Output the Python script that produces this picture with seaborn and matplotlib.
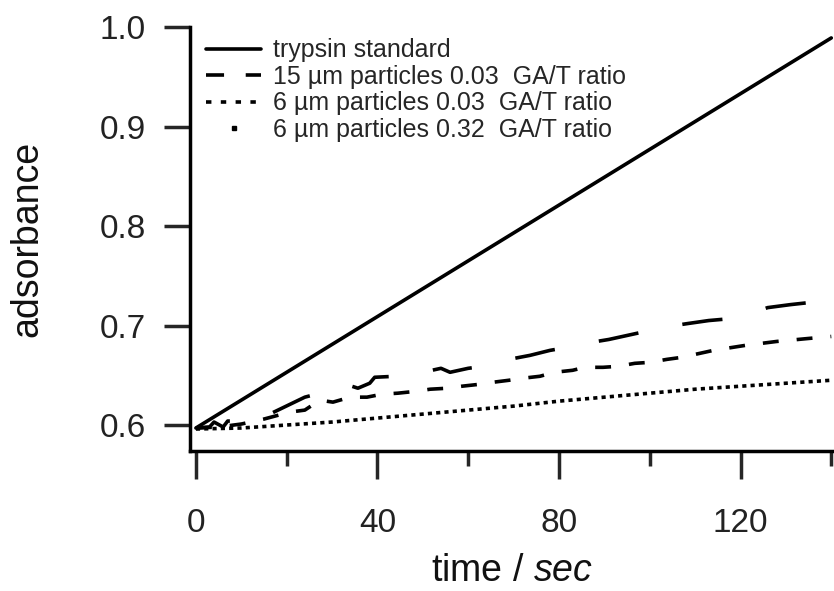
import pandas as pd
import numpy as np
import matplotlib
matplotlib.use("Agg")
import matplotlib.pyplot as plt
from matplotlib.lines import Line2D
from matplotlib.ticker import MultipleLocator
import seaborn as sns

# trypsin standard
t_std = [0, 20, 40, 60, 80, 100, 120, 140]
a_std = [0.597, 0.653, 0.709, 0.765, 0.821, 0.877, 0.933, 0.989]

# 15 um particles 0.03 GA/T
t_15 = [0, 3, 4, 6, 7, 10, 14, 19, 24, 29, 33, 35.7, 38.3, 39.4, 44, 48.7, 52, 54, 56, 60,
        65, 69, 73.6, 78, 83, 87, 91, 96, 100, 104, 108.4, 113, 118, 122, 126, 131, 135, 140]
a_15 = [0.597, 0.598, 0.603, 0.598, 0.604, 0.604, 0.606, 0.617, 0.628, 0.634, 0.641, 0.637, 0.642, 0.648, 0.649, 0.651, 0.655, 0.657, 0.653, 0.657,
        0.660, 0.666, 0.670, 0.675, 0.679, 0.683, 0.686, 0.691, 0.695, 0.699, 0.702, 0.705, 0.707, 0.712, 0.718, 0.721, 0.723, 0.728]

# 6 um particles 0.03 GA/T
t_6a = [0, 5, 10, 15, 20.7, 24, 27.3, 30.2, 34, 37.7, 41, 44.5, 48.7, 51.6, 55.5, 58.6, 62.6, 65.5, 69, 72,
        75.8, 79, 83, 85.7, 89.7, 93, 96.7, 100, 103.8, 107, 114, 121, 128, 135, 140]
a_6a = [0.597, 0.598, 0.601, 0.606, 0.613, 0.615, 0.625, 0.623, 0.628, 0.628, 0.631, 0.632, 0.634, 0.636, 0.637, 0.639, 0.641, 0.643, 0.645, 0.647,
        0.649, 0.653, 0.655, 0.658, 0.658, 0.659, 0.662, 0.663, 0.666, 0.668, 0.675, 0.680, 0.684, 0.687, 0.689]

# 6 um particles 0.32 GA/T
t_6b = [0, 10, 20, 30, 40, 50, 60, 70, 80, 90, 100, 110, 120, 130, 140]
a_6b = [0.596, 0.597, 0.600, 0.603, 0.607, 0.611, 0.615, 0.619, 0.624, 0.628, 0.632, 0.636, 0.639, 0.642, 0.645]

labels = ["trypsin standard",
          "15 \u00b5m particles 0.03  GA/T ratio",
          "6 \u00b5m particles 0.03  GA/T ratio",
          "6 \u00b5m particles 0.32  GA/T ratio"]

df = pd.concat([
    pd.DataFrame({"time": t_std, "absorbance": a_std, "series": labels[0]}),
    pd.DataFrame({"time": t_15, "absorbance": a_15, "series": labels[1]}),
    pd.DataFrame({"time": t_6a, "absorbance": a_6a, "series": labels[2]}),
    pd.DataFrame({"time": t_6b, "absorbance": a_6b, "series": labels[3]}),
], ignore_index=True)

sns.set_style("ticks")
plt.rcParams['font.family'] = ['Liberation Sans', 'DejaVu Sans']
plt.rcParams['mathtext.fontset'] = 'custom'
plt.rcParams['mathtext.it'] = 'Liberation Sans:italic'
plt.rcParams['mathtext.rm'] = 'Liberation Sans'

lw = 2.6
fig = plt.figure(figsize=(8.34, 5.91), dpi=100)
ax = fig.add_axes([190/834, 1-451/591, 644/834, 424/591])

dash_map = {labels[0]: "", labels[1]: (11.2, 12.4), labels[2]: (4.4, 5.0), labels[3]: (1.15, 1.15)}
sns.lineplot(data=df, x="time", y="absorbance", style="series", dashes=dash_map,
             color="black", lw=lw, estimator=None, legend=False, ax=ax)

ax.set_xlim(-1.3, 140.6)
ax.set_ylim(0.5739, 1.0)
ax.xaxis.set_major_locator(MultipleLocator(40))
ax.xaxis.set_minor_locator(MultipleLocator(20))
ax.yaxis.set_major_locator(MultipleLocator(0.1))
ax.yaxis.set_major_formatter(matplotlib.ticker.FormatStrFormatter('%.1f'))

sns.despine(ax=ax)
for s in ["left", "bottom"]:
    ax.spines[s].set_linewidth(2.5)
    ax.spines[s].set_color("black")

ax.tick_params(axis="x", which="major", length=20, width=2.5, pad=21, labelsize=24, labelcolor="#222222")
ax.tick_params(axis="x", which="minor", length=11, width=2.5)
ax.tick_params(axis="y", which="major", length=19, width=2.5, pad=13, labelsize=24, labelcolor="#222222")

ax.set_xlabel(r"time / $\it{sec}$", fontsize=27, color="#111111", labelpad=10)
ax.set_ylabel("adsorbance", fontsize=27, color="#111111", labelpad=39)

handles = [
    Line2D([], [], color="black", lw=lw),
    Line2D([], [], color="black", lw=lw, dashes=(5.0, 6.0)),
    Line2D([], [], color="black", lw=lw, dashes=(1.5, 2.6)),
    Line2D([], [], color="black", ls="none", marker="s", markersize=2.8),
]
leg = ax.legend(handles, labels, loc="upper left", bbox_to_anchor=(0.008, 1.0),
                frameon=False, fontsize=18, handlelength=2.2, handletextpad=0.45,
                labelspacing=0.1, borderaxespad=0.15, borderpad=0.3)

fig.savefig("out.png", dpi=100)
